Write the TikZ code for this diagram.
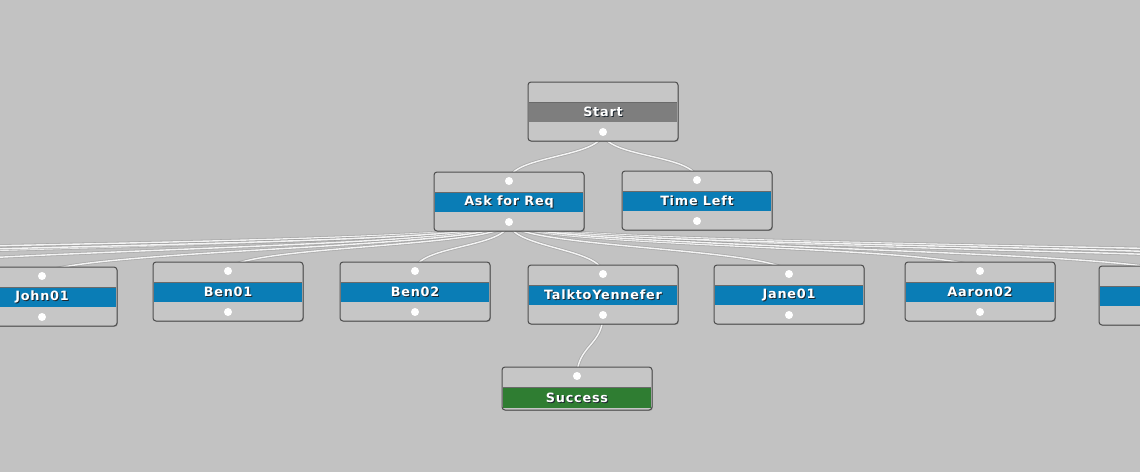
\documentclass[tikz,border=0pt]{standalone}
\usepackage{fontspec}
\usetikzlibrary{shadows}
\newfontfamily\nodefont{DejaVu Sans Bold}[LetterSpace=6]
\definecolor{bgc}{HTML}{C2C2C2}
\definecolor{boxfill}{HTML}{C6C6C6}
\definecolor{boxedge}{HTML}{4E4E4E}
\definecolor{blueband}{HTML}{0A7DB6}
\definecolor{grayband}{HTML}{7E7E7E}
\definecolor{greenband}{HTML}{2F7D32}
\definecolor{wirec}{HTML}{F4F4F4}
\definecolor{wireshadow}{HTML}{8E8E8E}
\definecolor{txtshadow}{HTML}{1E2830}
\definecolor{sepc}{HTML}{6A6A6A}
\pgfdeclarelayer{back}
\pgfdeclarelayer{wires}
\pgfsetlayers{back,wires,main}
\newcommand\shtxt[1]{\makebox[0pt][l]{\hspace*{1pt}\raisebox{-1pt}{\textcolor{txtshadow}{#1}}}\textcolor{white}{#1}}
\newcommand\lbl[1]{{\nodefont\fontsize{12.8}{14}\selectfont\shtxt{#1}}}
\tikzset{
  box/.style={rectangle, rounded corners=3pt, fill=boxfill, draw=boxedge, line width=1pt,
    minimum width=150pt, minimum height=59pt, inner sep=0pt,
    drop shadow={shadow xshift=0.8pt, shadow yshift=-0.8pt, opacity=0.35, fill=black!70}},
  shortbox/.style={box, minimum height=43pt},
  band/.style={rectangle, minimum width=148pt, minimum height=19pt, inner sep=0pt},
  sep/.style={draw=sepc, line width=0.8pt},
  dot/.style={circle, fill=white, draw=none, minimum size=8pt, inner sep=0pt},
  wire/.style={draw=wirec, line width=1.4pt, line cap=round,
    preaction={draw=wireshadow, line width=3pt, opacity=0.45}},
}
% name, cx, top, band colour, text
\newcommand\flownode[5]{%
  \node[box] (#1) at (#2,-#3-29.5) {};
  \draw[sep] (#2-74,-#3-20.5) -- (#2+74,-#3-20.5);
  \node[band,fill=#4] (#1-band) at (#2,-#3-30.5) {\lbl{#5}};
  \node[dot] (#1-in) at (#2,-#3-9) {};
  \node[dot] (#1-out) at (#2,-#3-50) {};
}
\begin{document}
\begin{tikzpicture}[x=1pt,y=1pt]
\useasboundingbox (0,0) rectangle (1140,-472);
\begin{pgfonlayer}{back}
  \fill[bgc] (0,0) rectangle (1140,-472);
\end{pgfonlayer}

% Start node (no input)
\node[box] (start) at (603,-82-29.5) {};
\draw[sep] (603-74,-82-20.5) -- (603+74,-82-20.5);
\node[band,fill=grayband] (start-band) at (603,-82-30.5) {\lbl{Start}};
\node[dot] (start-out) at (603,-82-50) {};

\flownode{ask}{509}{172}{blueband}{Ask for Req}
\flownode{time}{697}{171}{blueband}{Time Left}

\flownode{john}{42}{267}{blueband}{John01}
\flownode{ben1}{228}{262}{blueband}{Ben01}
\flownode{ben2}{415}{262}{blueband}{Ben02}
\flownode{talk}{603}{265}{blueband}{TalktoYennefer}
\flownode{jane}{789}{265}{blueband}{Jane01}
\flownode{aaron}{980}{262}{blueband}{Aaron02}
\flownode{right}{1174}{266}{blueband}{}

% Success node (no output)
\node[shortbox] (success) at (577,-367-21.5) {};
\draw[sep] (577-74,-367-20.5) -- (577+74,-367-20.5);
\node[band,fill=greenband,minimum height=20pt] (success-band) at (577,-367-31) {\lbl{Success}};
\node[dot] (success-in) at (577,-367-9) {};

% off-picture children of Ask for Req
\coordinate (offL1) at (-180,-278);
\coordinate (offL2) at (-370,-272);
\coordinate (offL3) at (-560,-280);
\coordinate (offL4) at (-750,-274);
\coordinate (offR1) at (1365,-270);
\coordinate (offR2) at (1555,-280);
\coordinate (offR3) at (1745,-274);

\begin{pgfonlayer}{wires}
  \draw[wire] (start-out.center) .. controls +(0,-26) and +(0,26) .. (ask-in.center);
  \draw[wire] (start-out.center) .. controls +(0,-26) and +(0,26) .. (time-in.center);
  \foreach \t in {offL4,offL3,offL2,offL1,offR3,offR2,offR1}
    \draw[wire] (ask-out.center) .. controls +(0,-28) and +(0,28) .. (\t);
  \foreach \t in {john,ben1,ben2,talk,jane,aaron,right}
    \draw[wire] (ask-out.center) .. controls +(0,-26) and +(0,26) .. (\t-in.center);
  \draw[wire] (talk-out.center) .. controls +(0,-30) and +(0,30) .. (success-in.center);
\end{pgfonlayer}
\end{tikzpicture}
\end{document}
